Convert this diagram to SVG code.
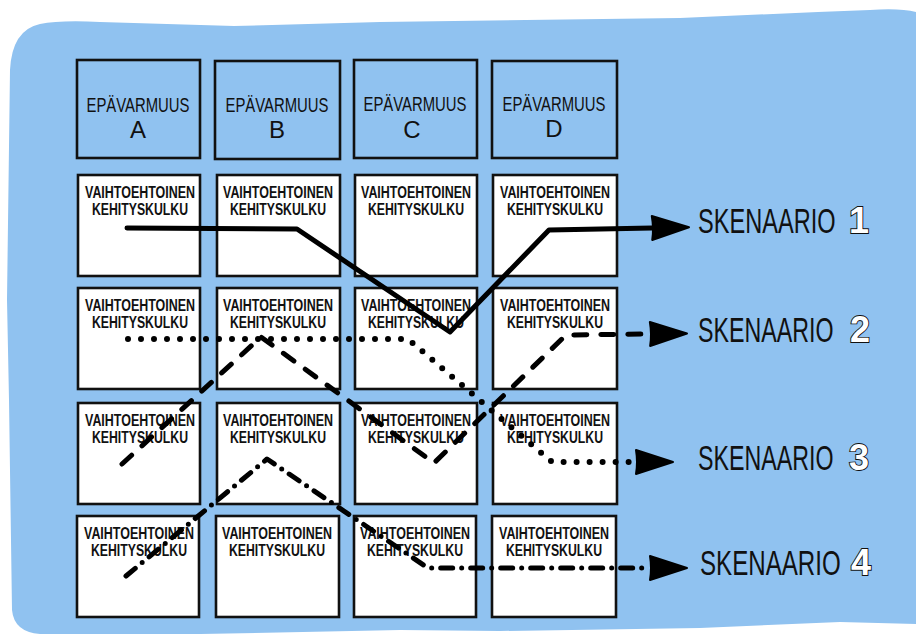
<svg xmlns="http://www.w3.org/2000/svg" width="916" height="637" viewBox="0 0 916 637">
<style>
.bg{fill:#90C2F0}
.hdr{fill:none;stroke:#111;stroke-width:2.6}
.cell{fill:#fff;stroke:#111;stroke-width:2.6}
.ht{font-family:"Liberation Sans",Arial,sans-serif;font-size:20px;fill:#111;text-anchor:middle}
.hl{font-family:"Liberation Sans",Arial,sans-serif;font-size:24px;fill:#111;text-anchor:middle}
.ct{font-family:"Liberation Sans",Arial,sans-serif;font-size:16px;font-weight:bold;fill:#111;text-anchor:middle}
.sk{font-family:"Liberation Sans",Arial,sans-serif;font-size:36px;fill:#111}
.num{font-family:"Liberation Sans",Arial,sans-serif;font-size:36px;font-weight:bold;fill:#fff;stroke:#111;stroke-width:1.8;paint-order:stroke}
.ln{fill:none;stroke:#000;stroke-width:5;stroke-linecap:round;stroke-linejoin:round;marker-end:url(#ah)}
.s2{stroke-dasharray:13 14}
.s3{stroke-dasharray:0 13;stroke-width:6}
.s4{stroke-dasharray:12 9 0 9}
</style>
<defs>
<marker id="ah" markerUnits="userSpaceOnUse" markerWidth="40" markerHeight="28" refX="0" refY="13" orient="auto" overflow="visible">
<path d="M0,1 Q2,13 0,25 L37,13 Z" fill="#000" stroke="#000" stroke-width="2" stroke-linejoin="round"/>
</marker>
</defs>
<path class="bg" d="M40,24 Q60,20 100,22 L234,26 L380,22 L526,20 L680,18 L818,12 L870,10 Q900,8 916,12 L916,624 L840,622 L700,628 L500,631 L400,630 L200,634 L40,634 Q14,632 12,610 L9,400 L7,300 L10,70 Q12,30 40,24 Z"/>

<g id="header-a"><rect class="hdr" x="77" y="60" width="123" height="98"/><text class="ht" x="138" y="112" textLength="103" lengthAdjust="spacingAndGlyphs">EPÄVARMUUS</text><text class="hl" x="138" y="138">A</text></g>
<g id="header-b"><rect class="hdr" x="215" y="61" width="125" height="98"/><text class="ht" x="277" y="112" textLength="103" lengthAdjust="spacingAndGlyphs">EPÄVARMUUS</text><text class="hl" x="277" y="138">B</text></g>
<g id="header-c"><rect class="hdr" x="354" y="60" width="123" height="98"/><text class="ht" x="415" y="111" textLength="103" lengthAdjust="spacingAndGlyphs">EPÄVARMUUS</text><text class="hl" x="412" y="138">C</text></g>
<g id="header-d"><rect class="hdr" x="492" y="61" width="125" height="97"/><text class="ht" x="554" y="111" textLength="103" lengthAdjust="spacingAndGlyphs">EPÄVARMUUS</text><text class="hl" x="554" y="137">D</text></g>

<g id="cell-a1"><rect class="cell" x="78" y="175" width="122" height="101"/><text class="ct" x="140" y="198" textLength="110" lengthAdjust="spacingAndGlyphs">VAIHTOEHTOINEN</text><text class="ct" x="140" y="215" textLength="96" lengthAdjust="spacingAndGlyphs">KEHITYSKULKU</text></g>
<g id="cell-b1"><rect class="cell" x="217" y="175" width="123" height="101"/><text class="ct" x="278" y="198" textLength="110" lengthAdjust="spacingAndGlyphs">VAIHTOEHTOINEN</text><text class="ct" x="278" y="215" textLength="96" lengthAdjust="spacingAndGlyphs">KEHITYSKULKU</text></g>
<g id="cell-c1"><rect class="cell" x="355" y="175" width="122" height="101"/><text class="ct" x="416" y="198" textLength="110" lengthAdjust="spacingAndGlyphs">VAIHTOEHTOINEN</text><text class="ct" x="416" y="215" textLength="96" lengthAdjust="spacingAndGlyphs">KEHITYSKULKU</text></g>
<g id="cell-d1"><rect class="cell" x="493" y="175" width="124" height="101"/><text class="ct" x="555" y="198" textLength="110" lengthAdjust="spacingAndGlyphs">VAIHTOEHTOINEN</text><text class="ct" x="555" y="215" textLength="96" lengthAdjust="spacingAndGlyphs">KEHITYSKULKU</text></g>

<g id="cell-a2"><rect class="cell" x="78" y="288" width="122" height="101"/><text class="ct" x="140" y="311" textLength="110" lengthAdjust="spacingAndGlyphs">VAIHTOEHTOINEN</text><text class="ct" x="140" y="328" textLength="96" lengthAdjust="spacingAndGlyphs">KEHITYSKULKU</text></g>
<g id="cell-b2"><rect class="cell" x="217" y="288" width="123" height="101"/><text class="ct" x="278" y="311" textLength="110" lengthAdjust="spacingAndGlyphs">VAIHTOEHTOINEN</text><text class="ct" x="278" y="328" textLength="96" lengthAdjust="spacingAndGlyphs">KEHITYSKULKU</text></g>
<g id="cell-c2"><rect class="cell" x="355" y="288" width="122" height="101"/><text class="ct" x="416" y="311" textLength="110" lengthAdjust="spacingAndGlyphs">VAIHTOEHTOINEN</text><text class="ct" x="416" y="328" textLength="96" lengthAdjust="spacingAndGlyphs">KEHITYSKULKU</text></g>
<g id="cell-d2"><rect class="cell" x="493" y="288" width="124" height="101"/><text class="ct" x="555" y="311" textLength="110" lengthAdjust="spacingAndGlyphs">VAIHTOEHTOINEN</text><text class="ct" x="555" y="328" textLength="96" lengthAdjust="spacingAndGlyphs">KEHITYSKULKU</text></g>

<g id="cell-a3"><rect class="cell" x="78" y="403" width="122" height="101"/><text class="ct" x="140" y="426" textLength="110" lengthAdjust="spacingAndGlyphs">VAIHTOEHTOINEN</text><text class="ct" x="140" y="443" textLength="96" lengthAdjust="spacingAndGlyphs">KEHITYSKULKU</text></g>
<g id="cell-b3"><rect class="cell" x="217" y="403" width="123" height="101"/><text class="ct" x="278" y="426" textLength="110" lengthAdjust="spacingAndGlyphs">VAIHTOEHTOINEN</text><text class="ct" x="278" y="443" textLength="96" lengthAdjust="spacingAndGlyphs">KEHITYSKULKU</text></g>
<g id="cell-c3"><rect class="cell" x="355" y="403" width="122" height="101"/><text class="ct" x="416" y="426" textLength="110" lengthAdjust="spacingAndGlyphs">VAIHTOEHTOINEN</text><text class="ct" x="416" y="443" textLength="96" lengthAdjust="spacingAndGlyphs">KEHITYSKULKU</text></g>
<g id="cell-d3"><rect class="cell" x="493" y="403" width="124" height="101"/><text class="ct" x="555" y="426" textLength="110" lengthAdjust="spacingAndGlyphs">VAIHTOEHTOINEN</text><text class="ct" x="555" y="443" textLength="96" lengthAdjust="spacingAndGlyphs">KEHITYSKULKU</text></g>

<g id="cell-a4"><rect class="cell" x="77" y="516" width="122" height="101"/><text class="ct" x="139" y="539" textLength="110" lengthAdjust="spacingAndGlyphs">VAIHTOEHTOINEN</text><text class="ct" x="139" y="556" textLength="96" lengthAdjust="spacingAndGlyphs">KEHITYSKULKU</text></g>
<g id="cell-b4"><rect class="cell" x="216" y="516" width="123" height="101"/><text class="ct" x="277" y="539" textLength="110" lengthAdjust="spacingAndGlyphs">VAIHTOEHTOINEN</text><text class="ct" x="277" y="556" textLength="96" lengthAdjust="spacingAndGlyphs">KEHITYSKULKU</text></g>
<g id="cell-c4"><rect class="cell" x="354" y="516" width="122" height="101"/><text class="ct" x="415" y="539" textLength="110" lengthAdjust="spacingAndGlyphs">VAIHTOEHTOINEN</text><text class="ct" x="415" y="556" textLength="96" lengthAdjust="spacingAndGlyphs">KEHITYSKULKU</text></g>
<g id="cell-d4"><rect class="cell" x="492" y="516" width="124" height="101"/><text class="ct" x="554" y="539" textLength="110" lengthAdjust="spacingAndGlyphs">VAIHTOEHTOINEN</text><text class="ct" x="554" y="556" textLength="96" lengthAdjust="spacingAndGlyphs">KEHITYSKULKU</text></g>

<g id="connectors">
<path class="ln" d="M127,228 L297,229 L450,332 L549,230 L652,228"/>
<path class="ln s2" d="M122,464 L261,337 L434,463 L566,335 L650,334"/>
<path class="ln s3" d="M128,339 L408,339 L552,462 L636,462"/>
<path class="ln s4" d="M126,576 L267,459 L425,566 L432,568 L650,568"/>
</g>

<g id="skenaario-1"><text class="sk" transform="translate(698,233) scale(0.655,1)">SKENAARIO</text><text class="num" x="849" y="233">1</text></g>
<g id="skenaario-2"><text class="sk" transform="translate(698,342) scale(0.645,1)">SKENAARIO</text><text class="num" x="850" y="342">2</text></g>
<g id="skenaario-3"><text class="sk" transform="translate(698,470) scale(0.645,1)">SKENAARIO</text><text class="num" x="849" y="470">3</text></g>
<g id="skenaario-4"><text class="sk" transform="translate(700,575) scale(0.67,1)">SKENAARIO</text><text class="num" x="851" y="575">4</text></g>
</svg>
